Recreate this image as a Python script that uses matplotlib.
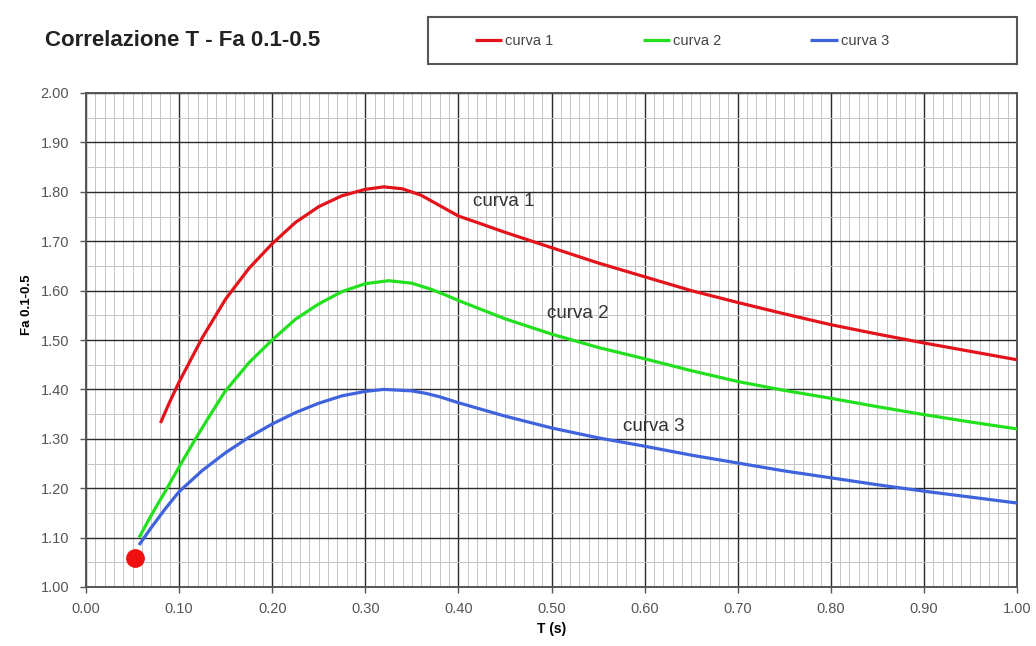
import matplotlib
matplotlib.use("Agg")
import matplotlib.pyplot as plt
from matplotlib.patches import Rectangle
from matplotlib.ticker import MultipleLocator, FormatStrFormatter

plt.rcParams["font.family"] = ["Liberation Sans", "DejaVu Sans"]

# values
t_curva1 = [0.08, 0.09, 0.10, 0.125, 0.15, 0.175, 0.20, 0.225, 0.25, 0.275, 0.30,
            0.32, 0.34, 0.36, 0.38, 0.40, 0.42, 0.45, 0.50, 0.55, 0.60, 0.65, 0.70,
            0.75, 0.80, 0.85, 0.90, 0.95, 1.00]
fa_curva1 = [1.332, 1.375, 1.415, 1.505, 1.583, 1.645, 1.695, 1.738, 1.77, 1.792, 1.805,
             1.81, 1.806, 1.793, 1.772, 1.751, 1.738, 1.718, 1.687, 1.656, 1.628, 1.60,
             1.576, 1.553, 1.531, 1.512, 1.494, 1.477, 1.460]

t_curva2 = [0.057, 0.07, 0.088, 0.10, 0.117, 0.13, 0.149, 0.175, 0.20, 0.225, 0.25,
            0.275, 0.30, 0.325, 0.35, 0.37, 0.385, 0.40, 0.45, 0.50, 0.55, 0.60, 0.65,
            0.70, 0.75, 0.80, 0.85, 0.90, 0.95, 1.00]
fa_curva2 = [1.100, 1.145, 1.203, 1.243, 1.298, 1.338, 1.395, 1.454, 1.50, 1.542, 1.573,
             1.598, 1.614, 1.620, 1.615, 1.603, 1.592, 1.580, 1.543, 1.512, 1.485, 1.462,
             1.438, 1.416, 1.398, 1.382, 1.365, 1.349, 1.334, 1.320]

t_curva3 = [0.057, 0.07, 0.085, 0.10, 0.125, 0.15, 0.175, 0.20, 0.225, 0.25, 0.275,
            0.30, 0.32, 0.35, 0.365, 0.38, 0.40, 0.45, 0.50, 0.55, 0.60, 0.65, 0.70,
            0.75, 0.80, 0.85, 0.90, 0.95, 1.00]
fa_curva3 = [1.085, 1.12, 1.158, 1.193, 1.236, 1.272, 1.303, 1.330, 1.353, 1.372, 1.387,
             1.396, 1.40, 1.397, 1.392, 1.385, 1.373, 1.346, 1.322, 1.302, 1.285, 1.267,
             1.251, 1.235, 1.221, 1.207, 1.194, 1.182, 1.170]

punto_t = [0.053]
punto_fa = [1.058]

series_names = ["curva 1", "curva 2", "curva 3"]
series_colors = ["#E3131B", "#22E01E", "#3F63DD"]
# label anchor points (T, Fa) for the in-plot annotations
label_t = [0.416, 0.495, 0.577]
label_fa = [1.78, 1.553, 1.324]

W, H = 1036, 646
fig = plt.figure(figsize=(W / 100, H / 100), dpi=100)
ax = fig.add_axes([86 / W, 1 - 587 / H, (1017 - 86) / W, (587 - 93) / H])

curves = [(t_curva1, fa_curva1), (t_curva2, fa_curva2), (t_curva3, fa_curva3)]
handles = []
for (t, fa), name, col in zip(curves, series_names, series_colors):
    h, = ax.plot(t, fa, color=col, lw=2.3, label=name, zorder=3,
                 solid_capstyle="butt", solid_joinstyle="round")
    handles.append(h)

ax.plot(punto_t, punto_fa, "o", color="#F01010", markersize=12.5, zorder=4)

for x, y, name in zip(label_t, label_fa, series_names):
    ax.text(x, y, name, fontsize=13.5, color="#333333", va="center", ha="left", zorder=5)

ax.set_xlim(0, 1)
ax.set_ylim(1, 2)
ax.xaxis.set_major_locator(MultipleLocator(0.1))
ax.xaxis.set_minor_locator(MultipleLocator(0.01))
ax.yaxis.set_major_locator(MultipleLocator(0.1))
ax.yaxis.set_minor_locator(MultipleLocator(0.05))
ax.xaxis.set_major_formatter(FormatStrFormatter("%.2f"))
ax.yaxis.set_major_formatter(FormatStrFormatter("%.2f"))

ax.grid(which="major", color="#2a2a2a", lw=1.0, zorder=1)
ax.grid(which="minor", color="#c4c4c4", lw=0.7, zorder=0)
ax.set_axisbelow(True)
for s in ax.spines.values():
    s.set_color("#555555")
    s.set_linewidth(1.4)

ax.tick_params(which="major", length=4, width=1.0, color="#555555",
               labelsize=10.5, labelcolor="#555555", direction="out")
ax.tick_params(which="minor", length=0)
ax.tick_params(axis="x", pad=7)
ax.tick_params(axis="y", pad=8)

ax.set_xlabel("T (s)", fontsize=10, fontweight="bold", labelpad=4)
fig.text(27 / W, 1 - 305 / H, "Fa 0.1-0.5", fontsize=9.5, fontweight="bold",
         rotation=90, va="center", ha="center")

fig.text(45 / W, 1 - 40 / H, "Correlazione T - Fa 0.1-0.5", fontsize=16,
         fontweight="bold", color="#222222", va="center", ha="left")

# legend box on top
fig.patches.append(Rectangle((428 / W, 1 - 64 / H), 589 / W, 47 / H,
                             transform=fig.transFigure, fill=False,
                             edgecolor="#555555", lw=1.5))
fig.legend(handles=handles, loc="center", bbox_to_anchor=(682 / W, 1 - 41 / H),
           ncol=3, frameon=False, fontsize=10.5, handlelength=1.9,
           handletextpad=0.2, columnspacing=6.1, labelcolor="#444444")

fig.savefig("out.png", dpi=100)
